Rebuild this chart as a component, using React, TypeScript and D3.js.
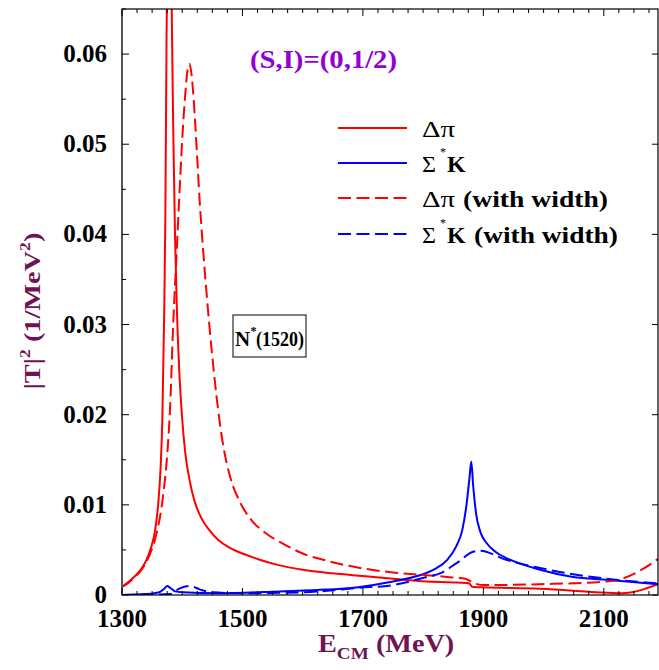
import React from "react";
import * as d3 from "d3";

// Δπ (no width)
const dpE = [1300, 1310, 1320, 1330, 1340, 1348, 1355, 1360, 1364, 1367, 1370, 1372, 1374, 1376, 1378, 1380, 1382, 1385, 1388, 1391, 1395, 1400, 1405, 1412, 1421, 1432, 1445, 1460, 1480, 1500, 1525, 1555, 1600, 1650, 1700, 1750, 1806, 1850, 1876, 1882, 1994, 2130, 2190];
const dpV = [0.0009, 0.0014, 0.002, 0.0027, 0.0038, 0.0052, 0.0072, 0.01, 0.014, 0.0195, 0.031, 0.042, 0.062, 0.075, 0.085, 0.08, 0.068, 0.052, 0.04, 0.032, 0.025, 0.0195, 0.0158, 0.0128, 0.0103, 0.0085, 0.0072, 0.0061, 0.0052, 0.0046, 0.004, 0.0034, 0.0028, 0.0024, 0.0021, 0.0018, 0.0015, 0.0014, 0.0013, 0.0009, 0.0007, 0.0002, 0.0012];

// Σ*K (no width)
const skE = [1300, 1340, 1362, 1370, 1375, 1380, 1388, 1400, 1462, 1562, 1640, 1695, 1750, 1790, 1820, 1840, 1855, 1865, 1872, 1877, 1880, 1883, 1888, 1895, 1905, 1920, 1938, 1965, 1994, 2049, 2105, 2190];
const skV = [0.0, 0.0001, 0.0003, 0.0007, 0.001, 0.0008, 0.0004, 0.0003, 0.0002, 0.0004, 0.0006, 0.0009, 0.0015, 0.0021, 0.0029, 0.0039, 0.0054, 0.0072, 0.01, 0.013, 0.0148, 0.0122, 0.009, 0.007, 0.0058, 0.0048, 0.0041, 0.0034, 0.0028, 0.002, 0.0017, 0.0012];

// Δπ (with width)
const dpwE = [1300, 1310, 1320, 1330, 1340, 1348, 1355, 1360, 1365, 1370, 1375, 1380, 1385, 1390, 1395, 1400, 1405, 1409, 1412, 1415, 1419, 1424, 1429, 1435, 1441, 1449, 1457, 1467, 1480, 1496, 1515, 1540, 1570, 1600, 1640, 1695, 1750, 1806, 1840, 1870, 1885, 1900, 1994, 2105, 2130, 2160, 2190];
const dpwV = [0.0009, 0.0013, 0.0019, 0.0026, 0.0036, 0.0048, 0.0062, 0.0076, 0.0094, 0.012, 0.0155, 0.021, 0.03, 0.037, 0.044, 0.0505, 0.0555, 0.0583, 0.0589, 0.058, 0.055, 0.0495, 0.0437, 0.038, 0.033, 0.0271, 0.022, 0.017, 0.013, 0.0103, 0.0083, 0.0068, 0.0056, 0.0046, 0.0038, 0.003, 0.0025, 0.0022, 0.002, 0.0018, 0.0013, 0.0011, 0.0012, 0.0015, 0.0018, 0.0027, 0.004];

// Σ*K (with width)
const skwE = [1300, 1380, 1395, 1413, 1430, 1450, 1500, 1600, 1695, 1750, 1806, 1828, 1855, 1883, 1894, 1938, 1994, 2049, 2105, 2190];
const skwV = [0.0, 0.0001, 0.0007, 0.001, 0.0006, 0.0003, 0.0002, 0.0003, 0.0008, 0.0011, 0.002, 0.0024, 0.0035, 0.0048, 0.0049, 0.0039, 0.003, 0.0023, 0.0018, 0.0013];

const xTicks = [1300, 1500, 1700, 1900, 2100];
const yTicks = [0, 0.01, 0.02, 0.03, 0.04, 0.05, 0.06];

const RED = "#ff0000";
const BLUE = "#0000ff";
const TITLE = "#6e1454";
const FONT = "'Liberation Serif', 'Times New Roman', serif";

const W = 659;
const H = 670;
const L = 122;
const R = 658;
const T = 9;
const B = 595;

export default function App() {
  const x = d3.scaleLinear().domain([1300, 2190]).range([L, R]);
  const y = d3.scaleLinear().domain([0, 0.065]).range([B, T]);

  const line = d3
    .line<[number, number]>()
    .x((d) => x(d[0]))
    .y((d) => y(d[1]))
    .curve(d3.curveMonotoneX);

  const zip = (e: number[], v: number[]) => e.map((d, i) => [d, v[i]] as [number, number]);

  const series = [
    { data: zip(dpE, dpV), color: RED, dash: undefined },
    { data: zip(skE, skV), color: BLUE, dash: undefined },
    { data: zip(dpwE, dpwV), color: RED, dash: "13,5.5" },
    { data: zip(skwE, skwV), color: BLUE, dash: "13,5.5" },
  ];

  const xMinor = d3.range(1300, 2191, 25);
  const yMinor = d3.range(0, 0.0651, 0.005);

  const legendRows = [
    { y: 128, color: RED, dash: undefined, star: false, width: false },
    { y: 163, color: BLUE, dash: undefined, star: true, width: false },
    { y: 198, color: RED, dash: "13,5.5", star: false, width: true },
    { y: 234, color: BLUE, dash: "13,5.5", star: true, width: true },
  ];

  return (
    <svg
      width={W}
      height={H}
      style={{ position: "absolute", left: 0, top: 0, background: "#fff" }}
      fontFamily={FONT}
    >
      <defs>
        <clipPath id="plot-clip">
          <rect x={L} y={T} width={R - L} height={B - T} />
        </clipPath>
      </defs>

      {/* curves */}
      <g clipPath="url(#plot-clip)">
        {series.map((s, i) => (
          <path
            key={i}
            d={line(s.data) || ""}
            fill="none"
            stroke={s.color}
            strokeWidth={2}
            strokeDasharray={s.dash}
          />
        ))}
      </g>

      {/* frame */}
      <rect x={L} y={T} width={R - L} height={B - T} fill="none" stroke="#000" strokeWidth={1.2} />
      <line x1={L} x2={L} y1={T} y2={B} stroke="#555" strokeWidth={2} />

      {/* bottom / top ticks */}
      {xMinor.map((v) => {
        const major = xTicks.includes(v);
        const len = major ? 7 : 4;
        return (
          <g key={"xt" + v}>
            <line x1={x(v)} x2={x(v)} y1={B} y2={B - len} stroke="#000" strokeWidth={1} />
            <line x1={x(v)} x2={x(v)} y1={T} y2={T + len} stroke="#000" strokeWidth={1} />
          </g>
        );
      })}
      {/* left / right ticks */}
      {yMinor.map((v, i) => {
        const major = i % 2 === 0;
        const len = major ? 7 : 4;
        return (
          <g key={"yt" + i}>
            <line x1={L} x2={L + len} y1={y(v)} y2={y(v)} stroke="#000" strokeWidth={1} />
            {major && <line x1={R} x2={R - 6} y1={y(v)} y2={y(v)} stroke="#000" strokeWidth={1} />}
          </g>
        );
      })}

      {/* tick labels */}
      {xTicks.map((v) => (
        <text key={"xl" + v} x={x(v)} y={627} textAnchor="middle" fontSize={25} fontWeight="bold" fill="#000">
          {v}
        </text>
      ))}
      {yTicks.map((v) => (
        <text key={"yl" + v} x={107} y={y(v) + 8} textAnchor="end" fontSize={25} fontWeight="bold" fill="#000">
          {v === 0 ? "0" : v.toFixed(2)}
        </text>
      ))}

      {/* axis titles */}
      <text
        transform="translate(40,311) rotate(-90) scale(1.18,1)"
        textAnchor="middle"
        fontSize={24}
        fontWeight="bold"
        fill={TITLE}
      >
        |T|<tspan dy={-10} fontSize={15}>2</tspan>
        <tspan dy={10}> (1/MeV</tspan>
        <tspan dy={-10} fontSize={15}>2</tspan>
        <tspan dy={10}>)</tspan>
      </text>
      <text transform="translate(318,652) scale(1.13,1)" fontSize={25} fontWeight="bold" fill={TITLE}>
        E<tspan dy={7} fontSize={17}>CM</tspan>
        <tspan dy={-7}> (MeV)</tspan>
      </text>

      {/* state label */}
      <text x={250} y={68} fontSize={25} fontWeight="bold" fill="#9400d3" textLength={147} lengthAdjust="spacingAndGlyphs">
        (S,I)=(0,1/2)
      </text>

      {/* resonance box */}
      <rect x={233} y={315} width={73} height={42} fill="#fff" stroke="#000" strokeWidth={1} />
      <text x={235} y={346} fontSize={21} fontWeight="bold" fill="#000">N</text>
      <text x={250.5} y={335} fontSize={12} fontWeight="bold" fill="#000">*</text>
      <text x={256} y={346} fontSize={21} fontWeight="bold" fill="#000" textLength={48} lengthAdjust="spacingAndGlyphs">
        (1520)
      </text>

      {/* legend */}
      {legendRows.map((r, i) => (
        <g key={"lg" + i}>
          <line x1={338} x2={407} y1={r.y} y2={r.y} stroke={r.color} strokeWidth={2} strokeDasharray={r.dash} />
          {r.star ? (
            <>
              <text x={422} y={r.y + 9} fontSize={24} fill="#000">Σ</text>
              <text x={440} y={r.y - 7} fontSize={12} fill="#000">*</text>
              <text x={447} y={r.y + 9} fontSize={24} fontWeight="bold" fill="#000">K</text>
              {r.width && (
                <text x={474} y={r.y + 9} fontSize={24} fontWeight="bold" fill="#000" textLength={144} lengthAdjust="spacingAndGlyphs">
                  (with width)
                </text>
              )}
            </>
          ) : (
            <>
              <text x={422} y={r.y + 9} fontSize={24} fill="#000" textLength={33} lengthAdjust="spacingAndGlyphs">Δπ</text>
              {r.width && (
                <text x={463} y={r.y + 9} fontSize={24} fontWeight="bold" fill="#000" textLength={145} lengthAdjust="spacingAndGlyphs">
                  (with width)
                </text>
              )}
            </>
          )}
        </g>
      ))}
    </svg>
  );
}
